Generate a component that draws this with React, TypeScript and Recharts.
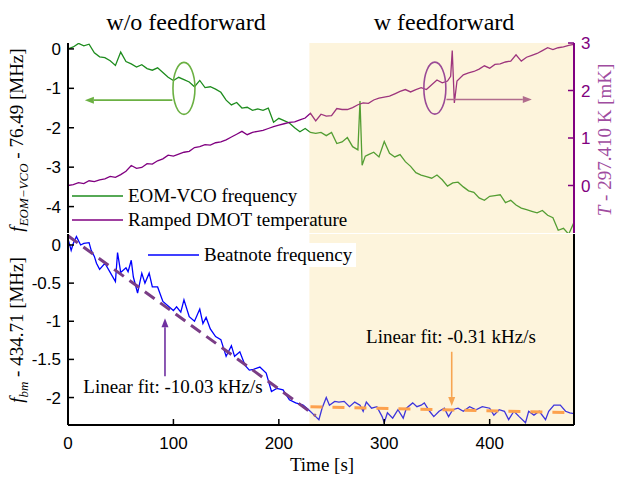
import React from "react";
import {
  LineChart,
  Line,
  XAxis,
  YAxis,
  ReferenceArea,
  ReferenceLine,
  ReferenceDot,
  Legend,
} from "recharts";

const SERIF = '"Liberation Serif", "Times New Roman", serif';
const SANS = '"Liberation Sans", Arial, sans-serif';

// EOM-VCO frequency (left axis, top panel) [MHz offset]
const vcoTime = [
  0, 5, 10, 15, 20, 25, 30, 35, 40, 45,
  50, 55, 60, 65, 70, 75, 80, 85, 90, 95,
  100, 105, 110, 115, 120, 125, 130, 135, 140, 145,
  150, 155, 160, 165, 170, 175, 180, 185, 190, 195,
  200, 205, 210, 215, 220, 225, 230, 235, 240, 245,
  250, 255, 260, 265, 270, 275, 277, 279, 282, 285,
  290, 295, 300, 305, 310, 315, 320, 325, 330, 335,
  340, 345, 350, 355, 360, 365, 370, 375, 380, 385,
  390, 395, 400, 405, 410, 415, 420, 425, 430, 435,
  440, 445, 450, 455, 460, 465, 470, 475, 480,
];
const vcoFreq = [
  0.0, 0.05, 0.14, 0.08, 0.12, -0.1, -0.2, -0.22, -0.3, -0.42,
  -0.08, -0.32, -0.38, -0.46, -0.4, -0.5, -0.54, -0.48, -0.6, -0.72,
  -0.8, -0.72, -0.78, -0.84, -0.96, -0.8, -0.98, -0.96, -1.02, -1.1,
  -1.3, -1.42, -1.36, -1.5, -1.48, -1.56, -1.52, -1.56, -1.5, -1.86,
  -1.76, -1.82, -1.88, -2.0, -2.1, -2.02, -2.12, -2.14, -2.12, -2.2,
  -2.12, -2.4, -2.36, -2.25, -2.48, -2.56, -1.32, -2.95, -2.72, -2.68,
  -2.62, -2.74, -2.35, -2.65, -2.74, -2.68, -2.86, -2.98, -3.14, -3.2,
  -3.24, -3.28, -3.2, -3.32, -3.48, -3.4, -3.38, -3.5, -3.6, -3.64,
  -3.78, -3.84, -3.74, -3.72, -3.7, -3.9, -3.84, -3.96, -4.04, -4.08,
  -4.12, -4.16, -4.1, -4.22, -4.28, -4.6, -4.55, -4.7, -4.4,
];

// Ramped DMOT temperature (right axis, top panel) [mK offset]
const tempTime = [
  0, 5, 10, 15, 20, 25, 30, 35, 40, 45,
  50, 55, 60, 65, 70, 75, 80, 85, 90, 95,
  100, 105, 110, 115, 120, 125, 130, 135, 140, 145,
  150, 155, 160, 165, 170, 175, 180, 185, 190, 195,
  200, 205, 210, 215, 220, 225, 230, 235, 240, 245,
  250, 255, 260, 265, 270, 275, 280, 285, 290, 295,
  300, 305, 310, 315, 320, 325, 330, 335, 340, 345,
  350, 355, 360, 363, 364.5, 366.5, 369, 375, 380, 385,
  390, 395, 400, 405, 410, 415, 420, 425, 430, 435,
  440, 445, 450, 455, 460, 465, 470, 475, 480,
];
const tempValue = [
  0.0, 0.02, 0.06, 0.04, 0.1, 0.08, 0.12, 0.14, 0.19, 0.17,
  0.23, 0.3, 0.42, 0.36, 0.38, 0.46, 0.45, 0.52, 0.56, 0.64,
  0.62, 0.66, 0.7, 0.72, 0.8, 0.82, 0.86, 0.85, 0.9, 0.92,
  0.96, 1.02, 1.08, 1.14, 1.07, 1.12, 1.14, 1.16, 1.2, 1.24,
  1.27, 1.3, 1.33, 1.34, 1.38, 1.42, 1.52, 1.36, 1.5, 1.46,
  1.47, 1.62, 1.6, 1.6, 1.64, 1.7, 1.74, 1.73, 1.8, 1.84,
  1.86, 1.88, 1.93, 1.98, 2.02, 1.97, 2.02, 2.06, 2.02, 2.12,
  2.22, 2.16, 2.2, 2.3, 2.84, 1.74, 2.2, 2.33, 2.37, 2.4,
  2.45, 2.52, 2.47, 2.55, 2.56, 2.6, 2.62, 2.75, 2.62, 2.7,
  2.74, 2.78, 2.84, 2.9, 2.86, 2.9, 2.92, 2.95, 2.97,
];

// Beatnote frequency (bottom panel) [MHz offset]
const beatTime = [
  0, 3, 5, 8, 12, 15, 20, 22, 25, 27,
  30, 35, 40, 45, 47, 50, 55, 57, 60, 62,
  66, 70, 73, 77, 80, 85, 90, 95, 100, 103,
  107, 110, 115, 120, 125, 128, 131, 135, 140, 145,
  150, 155, 158, 163, 168, 172, 176, 182, 188, 193,
  198, 204, 210, 216, 223, 229, 235, 238, 241, 245,
  248, 253, 257, 262, 267, 272, 277, 280, 283, 288,
  293, 298, 300, 303, 308, 313, 318, 321, 327, 331,
  335, 338, 343, 347, 352, 357, 361, 365, 370, 375,
  381, 387, 393, 400, 404, 409, 414, 418, 423, 428,
  434, 437, 442, 447, 453, 456, 461, 467, 472, 476,
  480,
];
const beatFreq = [
  0.08, -0.07, 0.02, 0.11, 0.0, 0.02, 0.03, -0.07, -0.15, -0.24,
  -0.32, -0.24, -0.36, -0.48, -0.1, -0.36, -0.3, -0.35, -0.2, -0.42,
  -0.63, -0.37, -0.5, -0.37, -0.55, -0.55, -0.74, -0.8, -0.86, -0.81,
  -0.88, -0.72, -0.94, -1.0, -0.84, -1.03, -0.95, -1.1, -1.2, -1.24,
  -1.46, -1.32, -1.46, -1.4, -1.58, -1.64, -1.63, -1.6, -1.68, -1.92,
  -1.88, -1.9, -2.03, -2.07, -2.1, -2.17, -2.25, -2.29, -2.14, -2.0,
  -2.1, -2.05, -2.06, -2.05, -2.12, -2.06, -2.1, -2.18, -2.06, -2.14,
  -2.12, -2.25, -2.33, -2.2, -2.27, -2.16, -2.27, -2.14, -2.07, -2.12,
  -2.1, -2.07, -2.18, -2.25, -2.18, -2.14, -2.25, -2.16, -2.14, -2.18,
  -2.12, -2.16, -2.12, -2.14, -2.23, -2.16, -2.18, -2.29, -2.18, -2.25,
  -2.33, -2.18, -2.23, -2.18, -2.29, -2.18, -2.1, -2.1, -2.18, -2.2,
  -2.21,
];

// linear fits
const fitTimeOff = [0, 235];
const fitValueOff = [0.12, -2.24];
const fitTimeOn = [230, 480];
const fitValueOn = [-2.12, -2.2];

const timeTicks = [0, 100, 200, 300, 400];
const innerTimeTicks = [100, 200, 300, 400];
const vcoTicks = [-4, -3, -2, -1, 0];
const tempTicks = [-1, 0, 1, 2, 3];
const beatTicks = [-2, -1.5, -1, -0.5, 0];
const feedforwardStart = 229;

const toData = (ts: number[], vs: number[]) => ts.map((t, i) => ({ t, v: vs[i] }));
const vcoData = toData(vcoTime, vcoFreq);
const tempData = toData(tempTime, tempValue);
const beatData = toData(beatTime, beatFreq);
const fitOffData = toData(fitTimeOff, fitValueOff);
const fitOnData = toData(fitTimeOn, fitValueOn);

const GREEN = "#1e8c1e";
const PURPLE = "#800080";
const BLUE = "#0000ff";
const SHADE = "#f7d373";

const arrow = (color: string) => (props: any) => {
  const { x1, y1, x2, y2 } = props;
  const a = Math.atan2(y2 - y1, x2 - x1);
  const bx = x2 - 9 * Math.cos(a);
  const by = y2 - 9 * Math.sin(a);
  const px = -Math.sin(a) * 3.5;
  const py = Math.cos(a) * 3.5;
  return (
    <g>
      <line x1={x1} y1={y1} x2={bx} y2={by} stroke={color} strokeWidth={1.6} />
      <polygon points={`${x2},${y2} ${bx + px},${by + py} ${bx - px},${by - py}`} fill={color} />
    </g>
  );
};

const ellipse = (color: string) => (props: any) => (
  <ellipse cx={props.cx} cy={props.cy} rx={11} ry={26} fill="none" stroke={color} strokeWidth={1.6} />
);

const legend = (boxed: boolean) => (props: any) => (
  <div
    style={{
      background: boxed ? "#fff" : "transparent",
      fontFamily: SERIF,
      fontSize: 19,
      padding: boxed ? "0 4px 0 3px" : 0,
    }}
  >
    {(props.payload || [])
      .filter((p: any) => p.type !== "none")
      .map((p: any) => (
        <div key={p.value} style={{ display: "flex", alignItems: "center", height: 24 }}>
          <svg width={51} height={6}>
            <line x1={0} y1={3} x2={51} y2={3} stroke={p.color} strokeWidth={1.5} />
          </svg>
          <span style={{ marginLeft: 5, lineHeight: "24px" }}>{p.value}</span>
        </div>
      ))}
  </div>
);

const tickFont = { fontSize: 17, fontFamily: SANS };
const blackLine = { stroke: "#000", strokeWidth: 2 };
const blackTick = { stroke: "#000", strokeWidth: 1.5 };

const rotated = (left: number, top: number, color: string): React.CSSProperties => ({
  position: "absolute",
  left,
  top,
  transform: "translate(-50%, -50%) rotate(-90deg)",
  whiteSpace: "nowrap",
  fontFamily: SERIF,
  fontSize: 19,
  color,
});

const text = (left: number, top: number, size: number): React.CSSProperties => ({
  position: "absolute",
  left,
  top,
  transform: "translate(-50%, -50%)",
  whiteSpace: "nowrap",
  fontFamily: SERIF,
  fontSize: size,
  color: "#000",
});

export default function App() {
  return (
    <div style={{ position: "absolute", left: 0, top: 0, width: 619, height: 477, background: "#fff" }}>
      <div style={{ position: "absolute", left: 0, top: 0 }}>
        <LineChart width={619} height={235} margin={{ top: 43, right: 5, bottom: 2, left: 8 }}>
          <XAxis type="number" dataKey="t" domain={[0, 480]} ticks={innerTimeTicks} height={0}
            tick={false} tickSize={-6} axisLine={blackLine} tickLine={blackTick} allowDataOverflow />
          <XAxis xAxisId="top" orientation="top" type="number" dataKey="t" domain={[0, 480]}
            ticks={innerTimeTicks} height={0} tick={false} tickSize={-6} axisLine={blackLine}
            tickLine={blackTick} allowDataOverflow />
          <YAxis yAxisId="L" domain={[-4.67, 0.15]} ticks={vcoTicks} width={60} tickSize={-6}
            tickMargin={13} allowDataOverflow tick={{ ...tickFont, fill: "#000" }}
            axisLine={blackLine} tickLine={blackTick} />
          <YAxis yAxisId="R" orientation="right" domain={[-1, 3]} ticks={tempTicks} width={40}
            tickSize={-6} tickMargin={13} allowDataOverflow tick={{ ...tickFont, fill: PURPLE }}
            axisLine={{ stroke: PURPLE, strokeWidth: 2 }} tickLine={{ stroke: PURPLE, strokeWidth: 1.5 }} />
          <Line data={vcoData} dataKey="v" yAxisId="L" name="EOM-VCO frequency" stroke={GREEN}
            strokeWidth={1.3} dot={false} isAnimationActive={false} />
          <Line data={tempData} dataKey="v" yAxisId="R" name="Ramped DMOT temperature" stroke={PURPLE}
            strokeWidth={1.3} dot={false} isAnimationActive={false} />
          <ReferenceArea x1={feedforwardStart} x2={480} yAxisId="L" fill={SHADE} fillOpacity={0.25}
            stroke="none" zIndex={450} />
          <ReferenceDot x={110} y={-1.0} yAxisId="L" shape={ellipse("#6bb043")} />
          <ReferenceLine yAxisId="L" segment={[{ x: 99, y: -1.3 }, { x: 16, y: -1.3 }]}
            shape={arrow("#6bb043")} />
          <ReferenceDot x={348} y={2.05} yAxisId="R" shape={ellipse("#9a4a96")} />
          <ReferenceLine yAxisId="R" segment={[{ x: 359, y: 1.81 }, { x: 440, y: 1.81 }]}
            shape={arrow("#9a4a96")} />
          <Legend layout="vertical" align="center" verticalAlign="middle" content={legend(false)}
            wrapperStyle={{ position: "absolute", left: 72, top: 184, width: "auto" }} />
        </LineChart>
      </div>

      <div style={{ position: "absolute", left: 0, top: 233 }}>
        <LineChart width={619} height={244} margin={{ top: 1, right: 5, bottom: 22, left: 8 }}>
          <XAxis type="number" dataKey="t" domain={[0, 480]} ticks={timeTicks} height={30}
            tickSize={-6} tickMargin={18} tick={{ ...tickFont, fill: "#000" }} axisLine={blackLine}
            tickLine={blackTick} allowDataOverflow />
          <XAxis xAxisId="top" orientation="top" type="number" dataKey="t" domain={[0, 480]}
            ticks={innerTimeTicks} height={0} tick={false} tickSize={-6} axisLine={blackLine}
            tickLine={blackTick} allowDataOverflow />
          <YAxis yAxisId="L" domain={[-2.36, 0.144]} ticks={beatTicks} width={60} tickSize={-6}
            tickMargin={13} allowDataOverflow tick={{ ...tickFont, fill: "#000" }}
            axisLine={blackLine} tickLine={blackTick} />
          <YAxis yAxisId="R" orientation="right" domain={[-2.36, 0.144]} ticks={beatTicks} width={40}
            tickSize={-6} tick={false} allowDataOverflow axisLine={blackLine} tickLine={blackTick} />
          <Line data={beatData} dataKey="v" yAxisId="L" name="Beatnote frequency" stroke={BLUE}
            strokeWidth={1.3} dot={false} isAnimationActive={false} />
          <Line data={fitOffData} dataKey="v" yAxisId="L" name="fit off" legendType="none"
            stroke="#7a3d86" strokeWidth={3} strokeDasharray="12 7" dot={false} isAnimationActive={false} />
          <Line data={fitOnData} dataKey="v" yAxisId="L" name="fit on" legendType="none"
            stroke="#ff9040" strokeWidth={3} strokeDasharray="12 10" dot={false} isAnimationActive={false} />
          <ReferenceArea x1={feedforwardStart} x2={480} yAxisId="L" fill={SHADE} fillOpacity={0.25}
            stroke="none" zIndex={450} />
          <ReferenceLine yAxisId="L" segment={[{ x: 92, y: -1.72 }, { x: 92, y: -0.96 }]}
            shape={arrow("#7030a0")} />
          <ReferenceLine yAxisId="L" segment={[{ x: 364, y: -1.4 }, { x: 364, y: -2.11 }]}
            shape={arrow("#f79646")} />
          <Legend layout="vertical" align="center" verticalAlign="middle" content={legend(true)}
            wrapperStyle={{ position: "absolute", left: 145, top: 10, width: "auto" }} />
        </LineChart>
      </div>

      <div style={text(186, 22, 24)}>w/o feedforward</div>
      <div style={text(444, 22, 24)}>w feedforward</div>
      <div style={text(173, 387, 19)}>Linear fit: -10.03 kHz/s</div>
      <div style={text(451, 337, 19)}>Linear fit: -0.31 kHz/s</div>
      <div style={text(322, 465, 19)}>Time [s]</div>

      <div style={rotated(19, 140, "#000")}>
        <i>f</i>
        <sub style={{ fontSize: 13 }}><i>EOM−VCO</i></sub> - 76.49 [MHz]
      </div>
      <div style={rotated(19, 330, "#000")}>
        <i>f</i>
        <sub style={{ fontSize: 13 }}><i>bm</i></sub> - 434.71 [MHz]
      </div>
      <div style={rotated(605, 140, "#a04ca0")}>
        <i>T</i> - 297.410 K [mK]
      </div>
    </div>
  );
}
